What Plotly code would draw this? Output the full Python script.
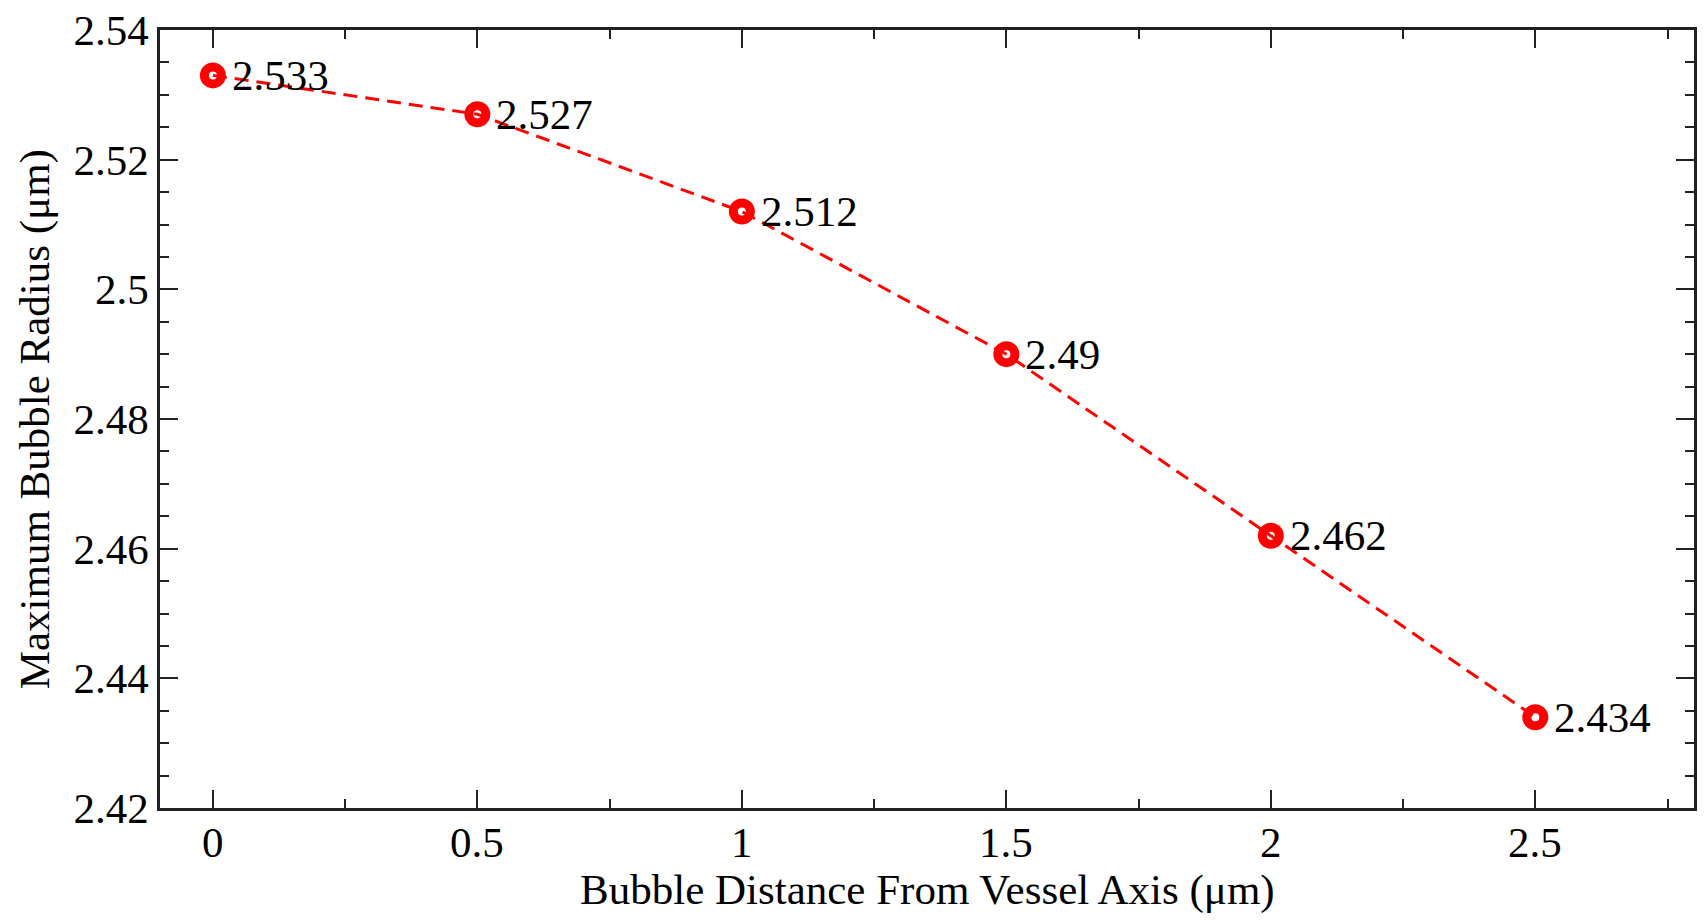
import plotly.graph_objects as go

distance = [0, 0.5, 1, 1.5, 2, 2.5]
radius = [2.533, 2.527, 2.512, 2.490, 2.462, 2.434]
labels = ["2.533", "2.527", "2.512", "2.49", "2.462", "2.434"]
x_tick_text = ["0", "0.5", "1", "1.5", "2", "2.5"]
y_tick_vals = [2.42, 2.44, 2.46, 2.48, 2.50, 2.52, 2.54]
y_tick_text = ["2.42", "2.44", "2.46", "2.48", "2.5", "2.52", "2.54"]

RED = "#ff0000"
FONT = "Liberation Serif"

fig = go.Figure()
fig.add_trace(go.Scatter(
    x=distance, y=radius, mode="lines+markers",
    line=dict(color=RED, width=3, dash="14px,8px"),
    marker=dict(symbol="circle-open", size=17, color=RED, line=dict(color=RED, width=9)),
    showlegend=False,
))

for xv, yv, t in zip(distance, radius, labels):
    fig.add_annotation(x=xv, y=yv, text=t, showarrow=False, xanchor="left",
                       yanchor="middle", xshift=17, yshift=0,
                       font=dict(family=FONT, size=43, color="black"))

# x tick labels
for xv, t in zip(distance, x_tick_text):
    fig.add_annotation(x=xv, xref="x", yref="paper", y=0, yshift=-34, text=t,
                       showarrow=False, xanchor="center", yanchor="middle",
                       font=dict(family=FONT, size=43, color="black"))

# axis titles
fig.add_annotation(xref="paper", yref="paper", x=0.5, y=-0.106, text="Bubble Distance From Vessel Axis (μm)",
                   showarrow=False, xanchor="center", yanchor="middle",
                   font=dict(family=FONT, size=43, color="black"))
fig.add_annotation(xref="paper", yref="paper", x=-0.0813, y=0.5, text="Maximum Bubble Radius (μm)",
                   showarrow=False, xanchor="center", yanchor="middle", textangle=-90,
                   font=dict(family=FONT, size=43, color="black"))

axis_common = dict(
    showline=True, linecolor="#222", linewidth=2.5, mirror="allticks",
    ticks="inside", tickcolor="#222", tickwidth=2, ticklen=18,
    showgrid=False, zeroline=False,
    tickfont=dict(family=FONT, size=43, color="black"),
)

fig.update_xaxes(
    range=[-0.1, 2.8], tickmode="array", tickvals=distance,
    ticktext=x_tick_text, showticklabels=False,
    minor=dict(ticks="inside", dtick=0.25, tick0=0, ticklen=9, tickwidth=2, tickcolor="#222", showgrid=False),
    **axis_common,
)
fig.update_yaxes(
    range=[2.42, 2.54], tickmode="array",
    tickvals=y_tick_vals, ticktext=y_tick_text,
    minor=dict(ticks="inside", dtick=0.005, tick0=2.42, ticklen=9, tickwidth=2, tickcolor="#222", showgrid=False),
    **axis_common,
)

fig.update_layout(
    width=1704, height=923,
    margin=dict(l=160, r=7, t=30, b=115),
    plot_bgcolor="white", paper_bgcolor="white",
)

fig.write_html("out.html")
